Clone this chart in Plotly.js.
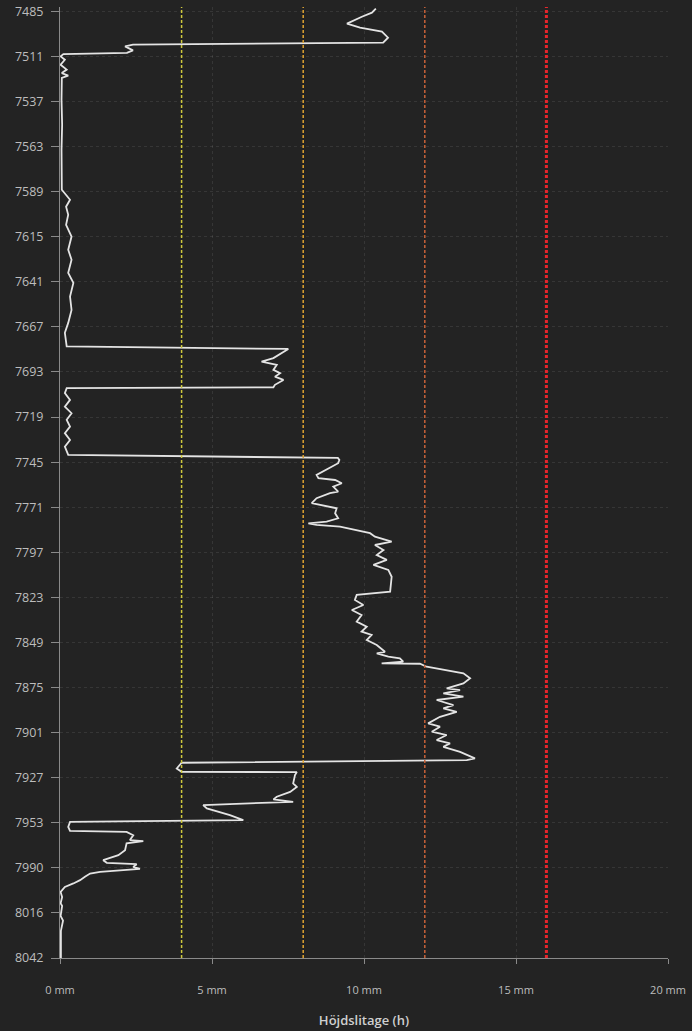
<!DOCTYPE html>
<html>
<head>
<meta charset="utf-8">
<script src="https://cdn.plot.ly/plotly-3.0.1.min.js"></script>
<style>
  html, body { margin: 0; padding: 0; background: #232323; }
  #chart { width: 692px; height: 1031px; }
</style>
</head>
<body>
<div id="chart"></div>
<script>
// Along-track sample row (ticks every 26 rows) and height wear in mm
const rows = [
  -1.5, 0.75, 3.1, 7.1, 9.4, 11.7, 15.2, 18.1, 19.2, 20.2, 22.5, 24.0, 24.7, 26.0, 27.9, 30.8, 33.6, 35.6, 37.1, 38.4,
  51, 65.4, 79.8, 91.4, 102.9,
  108.7, 112.7, 117.3, 123.1, 129.9, 137.5, 143.3, 150.8, 156.6, 164.5, 172.2, 179.7, 185.4, 193.3, 194.7,
  200.0, 202.0, 203.9, 206.8, 208.7, 210.7, 212.6, 215.4, 216.8, 217.3,
  220.2, 224.1, 228.0, 231.8, 235.6, 239.5, 243.3, 247.2, 251.1, 255.8, 257.6,
  258.7, 260.6, 267.4, 269.3, 270.3, 272.2, 274.1, 277.0, 277.9, 280.8, 283.7, 286.6, 289.5, 292.4, 294.3, 295.3, 296.2, 297.2,
  301.0, 303.0, 305.9, 307.8, 310.7, 313.6, 316.4, 319.3, 322.2, 326.1, 334.7, 336.6, 339.5, 342.4, 345.3, 348.2, 352.0, 354.9, 357.8, 359.7, 362.6, 365.5,
  369.4, 370.3, 372.2, 373.2, 375.1, 376.1, 376.3, 378.0,
  381.8, 384.7, 387.6, 390.5, 391.5, 393.4, 395.3, 397.2, 400.1, 402.0, 404.0, 406.9, 410.7, 412.6, 415.5, 417.4, 420.3, 422.2, 424.2,
  427.1, 430.9, 431.9, 433.4, 436.7, 438.6, 438.8, 440.5, 445.3, 447.3, 450.2, 453.0, 454.5, 455.9,
  457.8, 459.7, 463.6, 466.5, 467.5, 470.4, 472.7, 473.3, 475.2, 478.0, 478.6, 479.9, 483.8, 486.7, 489.6, 491.1, 491.9, 493.5, 494.6,
  496.3, 497.3, 499.2, 501.1, 503.0, 505.0, 507.9, 510.8, 514.4, 515.9, 521.7, 524.5, 530.3, 538.0, 546.0
];
const wear = [
  10.39, 10.26, 9.93, 9.44, 9.87, 10.59, 10.79, 10.63, 2.40, 2.14, 2.40, 2.20, 0.11, 0.02, 0.16, 0.02, 0.22, 0.06, 0.27, 0.06,
  0.05, 0.07, 0.05, 0.06, 0.06,
  0.33, 0.20, 0.27, 0.20, 0.38, 0.27, 0.38, 0.27, 0.44, 0.33, 0.38, 0.27, 0.16, 0.22, 7.51,
  7.02, 6.63, 7.13, 7.02, 7.24, 7.07, 7.35, 7.07, 7.02, 0.22,
  0.16, 0.33, 0.16, 0.38, 0.22, 0.33, 0.16, 0.33, 0.16, 0.27, 9.14,
  9.19, 9.15, 8.44, 8.50, 9.05, 9.27, 8.99, 9.15, 8.88, 8.44, 8.28, 9.10, 9.05, 9.15, 8.77, 8.17, 8.44, 9.21,
  10.20, 10.36, 10.91, 10.36, 10.64, 10.42, 10.75, 10.31, 10.80, 10.91, 10.86, 9.76, 9.70, 9.98, 9.60, 9.92, 9.76, 10.09, 9.92, 10.25, 10.09, 10.42,
  10.69, 10.42, 10.80, 11.18, 11.29, 10.58, 11.84, 12.06,
  13.27, 13.49, 13.27, 12.72, 13.16, 12.61, 13.27, 12.39, 12.94, 12.61, 13.05, 12.50, 12.11, 12.50, 12.23, 12.72, 12.39, 12.83, 12.61,
  13.16, 13.65, 13.38, 4.00, 3.84, 4.00, 7.79, 7.73, 7.67, 7.79, 7.57, 7.13, 7.02, 7.67,
  4.71, 4.83, 5.59, 6.03, 0.33, 0.27, 0.33, 2.19, 2.41, 2.30, 2.74, 2.19, 2.14, 1.92, 1.42, 1.54, 2.52, 2.41, 2.63,
  1.32, 0.99, 0.82, 0.66, 0.44, 0.16, 0.02, 0.07, 0.02, 0.07, 0.02, 0.10, 0.03, 0.03, 0.03
];
const tickRows = [0, 26, 52, 78, 104, 130, 156, 182, 208, 234, 260, 286, 312, 338, 364, 390, 416, 442, 468, 494, 520, 546];
const tickLabels = ['7485','7511','7537','7563','7589','7615','7641','7667','7693','7719','7745','7771','7797','7823','7849','7875','7901','7927','7953','7990','8016','8042'];
const thresholds = [4, 8, 12, 16];
const thresholdColors = ['#cfc93e', '#e0a432', '#c8633a', '#e8262c'];
const thresholdWidths = [1.5, 1.5, 1.5, 3];

const trace = {
  x: wear, y: rows, type: 'scatter', mode: 'lines',
  line: { color: '#e4e4e4', width: 1.8 },
  hoverinfo: 'skip'
};

const shapes = thresholds.map((t, i) => ({
  type: 'line', xref: 'x', yref: 'paper', x0: t, x1: t, y0: 0, y1: 1,
  line: { color: thresholdColors[i], width: thresholdWidths[i], dash: '3px,2px' },
  layer: 'above'
}));

const layout = {
  width: 692, height: 1031,
  margin: { l: 60, r: 24, t: 7, b: 73 },
  paper_bgcolor: '#232323', plot_bgcolor: '#232323',
  font: { family: 'Open Sans, sans-serif', color: '#bdbdbd' },
  showlegend: false,
  shapes: shapes,
  xaxis: {
    range: [0, 20], dtick: 5, ticksuffix: ' mm',
    showline: true, linecolor: '#8a8a8a', linewidth: 1,
    ticks: 'outside', ticklen: 5, tickcolor: '#8a8a8a',
    showgrid: true, gridcolor: 'rgba(255,255,255,0.09)', griddash: '3px,3px',
    zeroline: false,
    tickfont: { size: 11, color: '#bdbdbd' },
    ticklabelstandoff: 17,
    title: { text: 'Höjdslitage (h)', font: { size: 13, color: '#d0d0d0', weight: 600 }, standoff: 19 },
    automargin: false
  },
  yaxis: {
    range: [546, -2.5],
    tickmode: 'array', tickvals: tickRows, ticktext: tickLabels,
    showline: true, linecolor: '#8a8a8a', linewidth: 1,
    ticks: 'outside', ticklen: 8, tickcolor: '#8a8a8a',
    showgrid: true, gridcolor: 'rgba(255,255,255,0.09)', griddash: '3px,3px',
    zeroline: false,
    tickfont: { size: 12.5, color: '#bdbdbd' },
    ticklabelstandoff: 5,
    automargin: false
  }
};

Plotly.newPlot('chart', [trace], layout, { displayModeBar: false, staticPlot: true });
</script>
</body>
</html>
